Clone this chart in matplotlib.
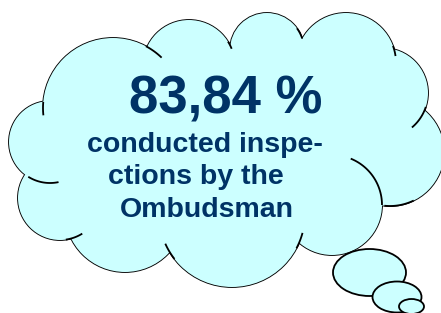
import numpy as np
import matplotlib.pyplot as plt
from matplotlib.patches import Ellipse

# text shown in the callout
share_label = "83,84 %"
caption_lines = ["conducted inspe-", "ctions by the", "Ombudsman"]

fill = "#ccffff"
navy = "#003366"
lw = 1.3

# cloud bumps: centre x, centre y, radius (pixel coords, y down)
bump_x = [50, 60, 125, 113, 189, 267, 346, 383, 390, 332, 232]
bump_y = [142, 198, 212, 108, 66, 50, 63, 93, 152, 205, 214]
bump_r = [41, 42, 60, 70, 46, 37, 50, 45, 54, 50, 73]

# short inner strokes of the cloud: bump index, start angle, end angle
tail_idx = [3, 3, 4, 5, 6, 7, 8, 9, 10, 10, 1, 0]
tail_a0 = [174, -62, -32, -36, -20, 18, 64, -68, 142, 15, 58, 78]
tail_a1 = [185, -46, -22, -18, -8, 50, 96, 0, 156, 28, 82, 122]

# thought bubbles: x, y, width, height
bub_x = [369.5, 397, 411.5]
bub_y = [272.5, 297, 306.5]
bub_w = [73, 49, 25]
bub_h = [47, 31, 15]

fig = plt.figure(figsize=(4.41, 3.13), dpi=100)
ax = fig.add_axes([0, 0, 1, 1])
ax.set_xlim(0, 441)
ax.set_ylim(313, 0)
ax.axis('off')

# outline first, then the fill on top hides the inner edges
for x, y, r in zip(bump_x, bump_y, bump_r):
    ax.add_patch(Ellipse((x, y), 2 * r, 2 * r, facecolor=fill, edgecolor='black', lw=lw, zorder=1))
for x, y, r in zip(bump_x, bump_y, bump_r):
    ax.add_patch(Ellipse((x, y), 2 * r, 2 * r, facecolor=fill, edgecolor='none', zorder=2))
ax.add_patch(Ellipse((225, 150), 320, 190, facecolor=fill, edgecolor='none', zorder=2))

for i, a0, a1 in zip(tail_idx, tail_a0, tail_a1):
    t = np.radians(np.linspace(a0, a1, 30))
    ax.plot(bump_x[i] + bump_r[i] * np.cos(t), bump_y[i] + bump_r[i] * np.sin(t),
            color='black', lw=lw, zorder=3, solid_capstyle='butt')

for x, y, w, h in zip(bub_x, bub_y, bub_w, bub_h):
    ax.add_patch(Ellipse((x, y), w, h, facecolor=fill, edgecolor='black', lw=lw, zorder=4))

ax.text(226, 113, share_label, ha='center', va='baseline', fontsize=38,
        fontweight='bold', family='Liberation Sans', color=navy, zorder=5)
for cx, base, line in zip([205, 196, 206.5], [152, 184, 217], caption_lines):
    ax.text(cx, base, line, ha='center', va='baseline', fontsize=20.5,
            fontweight='bold', family='Liberation Sans', color=navy, zorder=5)

fig.savefig('out.png', dpi=100)
